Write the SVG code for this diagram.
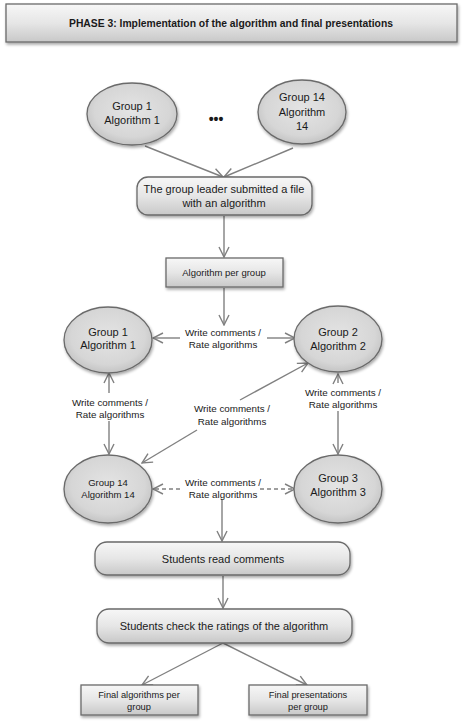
<svg xmlns="http://www.w3.org/2000/svg" width="463" height="727" viewBox="0 0 463 727">
<defs>
<linearGradient id="boxg" x1="0" y1="0" x2="0" y2="1">
<stop offset="0" stop-color="#f7f7f7"/>
<stop offset="0.5" stop-color="#e6e6e6"/>
<stop offset="1" stop-color="#c8c8c8"/>
</linearGradient>
<radialGradient id="ellg" cx="0.5" cy="0.45" r="0.6">
<stop offset="0" stop-color="#e4e4e4"/>
<stop offset="0.7" stop-color="#d6d6d6"/>
<stop offset="1" stop-color="#bdbdbd"/>
</radialGradient>
<filter id="sh" x="-10%" y="-10%" width="125%" height="140%">
<feGaussianBlur in="SourceAlpha" stdDeviation="1.5"/>
<feOffset dx="1" dy="2" result="b"/>
<feComponentTransfer><feFuncA type="linear" slope="0.35"/></feComponentTransfer>
<feMerge><feMergeNode/><feMergeNode in="SourceGraphic"/></feMerge>
</filter>
<marker id="ah" viewBox="0 0 12 12" refX="11" refY="6" markerWidth="12" markerHeight="12" markerUnits="userSpaceOnUse" orient="auto-start-reverse">
<path d="M1,1 L11,6 L1,11" fill="none" stroke="#808080" stroke-width="1.4"/>
</marker>
</defs>
<style>
.box{fill:url(#boxg);stroke:#6a6a6a;stroke-width:1.3;filter:url(#sh)}
.ell{fill:url(#ellg);stroke:#6a6a6a;stroke-width:1.3;filter:url(#sh)}
.t{font-family:"Liberation Sans",Arial,sans-serif;font-size:11px;fill:#1a1a1a;text-anchor:middle}
.s{font-size:9.5px}
.lab{font-family:"Liberation Sans",Arial,sans-serif;font-size:9.8px;fill:#1a1a1a;text-anchor:middle}
.c{fill:none;stroke:#808080;stroke-width:1.4}
.d{stroke-dasharray:4,3}
</style>
<rect width="463" height="727" fill="#ffffff"/>

<g id="title">
<rect class="box" x="6" y="4" width="451" height="38"/>
<text class="t" x="231" y="27" style="font-weight:bold;font-size:10.3px" textLength="324" lengthAdjust="spacingAndGlyphs">PHASE 3: Implementation of the algorithm and final presentations</text>
</g>

<g id="connectors">
<line class="c" x1="145" y1="146" x2="223" y2="177" marker-end="url(#ah)"/>
<line class="c" x1="293" y1="148" x2="224" y2="177" marker-end="url(#ah)"/>
<line class="c" x1="224" y1="216" x2="224" y2="257" marker-end="url(#ah)"/>
<line class="c" x1="224" y1="288" x2="224" y2="325" marker-end="url(#ah)"/>
<line class="c" x1="180" y1="338" x2="153" y2="338" marker-end="url(#ah)"/>
<line class="c" x1="267" y1="338" x2="295" y2="338" marker-end="url(#ah)"/>
<line class="c" x1="109" y1="393" x2="109" y2="373" marker-end="url(#ah)"/>
<line class="c" x1="109" y1="421" x2="109" y2="454" marker-end="url(#ah)"/>
<line class="c" x1="338" y1="383" x2="338" y2="374" marker-end="url(#ah)"/>
<line class="c" x1="338" y1="411" x2="338" y2="454" marker-end="url(#ah)"/>
<line class="c" x1="240" y1="400" x2="308" y2="363" marker-end="url(#ah)"/>
<line class="c" x1="197" y1="430" x2="142" y2="463" marker-end="url(#ah)"/>
<line class="c d" x1="180" y1="489" x2="153" y2="489" marker-end="url(#ah)"/>
<line class="c d" x1="260" y1="489" x2="295" y2="489" marker-end="url(#ah)"/>
<line class="c" x1="222" y1="499" x2="222" y2="541" marker-end="url(#ah)"/>
<line class="c" x1="223" y1="576" x2="223" y2="608" marker-end="url(#ah)"/>
<line class="c" x1="223" y1="643" x2="142" y2="685" marker-end="url(#ah)"/>
<line class="c" x1="223" y1="643" x2="307" y2="685" marker-end="url(#ah)"/>
<text class="lab" x="223" y="336">Write comments /</text>
<text class="lab" x="223" y="348">Rate algorithms</text>
<text class="lab" x="110" y="406">Write comments /</text>
<text class="lab" x="110" y="418">Rate algorithms</text>
<text class="lab" x="343" y="396">Write comments /</text>
<text class="lab" x="343" y="408">Rate algorithms</text>
<text class="lab" x="232" y="412">Write comments /</text>
<text class="lab" x="232" y="425">Rate algorithms</text>
<text class="lab" x="223" y="486">Write comments /</text>
<text class="lab" x="223" y="498">Rate algorithms</text>
</g>

<g id="g1top">
<ellipse class="ell" cx="132" cy="114" rx="45" ry="31"/>
<text class="t" x="132" y="110">Group 1</text>
<text class="t" x="132" y="124">Algorithm 1</text>
</g>

<g id="dots">
<text class="t" x="216" y="124" style="font-size:14px;font-weight:bold">•••</text>
</g>

<g id="g14top">
<ellipse class="ell" cx="302" cy="112" rx="44" ry="32"/>
<text class="t" x="302" y="101">Group 14</text>
<text class="t" x="302" y="116">Algorithm</text>
<text class="t" x="302" y="130">14</text>
</g>

<g id="submit">
<rect class="box" x="137" y="177" width="175" height="38" rx="11"/>
<text class="t" x="224" y="193">The group leader submitted a file</text>
<text class="t" x="224" y="207">with an algorithm</text>
</g>

<g id="perGroup">
<rect class="box" x="166" y="258" width="117" height="29"/>
<text class="t s" x="224" y="276">Algorithm per group</text>
</g>

<g id="g1">
<ellipse class="ell" cx="108" cy="340" rx="44" ry="33"/>
<text class="t" x="108" y="336">Group 1</text>
<text class="t" x="108" y="349">Algorithm 1</text>
</g>

<g id="g2">
<ellipse class="ell" cx="338" cy="339" rx="44" ry="33"/>
<text class="t" x="338" y="336">Group 2</text>
<text class="t" x="338" y="350">Algorithm 2</text>
</g>

<g id="g14">
<ellipse class="ell" cx="108" cy="489" rx="44" ry="34"/>
<text class="t s" x="108" y="486">Group 14</text>
<text class="t s" x="108" y="498">Algorithm 14</text>
</g>

<g id="g3">
<ellipse class="ell" cx="338" cy="489" rx="44" ry="34"/>
<text class="t" x="338" y="482">Group 3</text>
<text class="t" x="338" y="496">Algorithm 3</text>
</g>

<g id="read">
<rect class="box" x="95" y="542" width="255" height="33" rx="12"/>
<text class="t" x="223" y="563">Students read comments</text>
</g>

<g id="check">
<rect class="box" x="97" y="609" width="255" height="34" rx="12"/>
<text class="t" x="224" y="630">Students check the ratings of the algorithm</text>
</g>

<g id="finalAlg">
<rect class="box" x="81" y="685" width="117" height="30"/>
<text class="t" x="139" y="698" style="font-size:9.3px">Final algorithms per</text>
<text class="t" x="139" y="710" style="font-size:9.3px">group</text>
</g>

<g id="finalPres">
<rect class="box" x="249" y="685" width="118" height="30"/>
<text class="t" x="308" y="698" style="font-size:9.3px">Final presentations</text>
<text class="t" x="308" y="710" style="font-size:9.3px">per group</text>
</g>
</svg>
